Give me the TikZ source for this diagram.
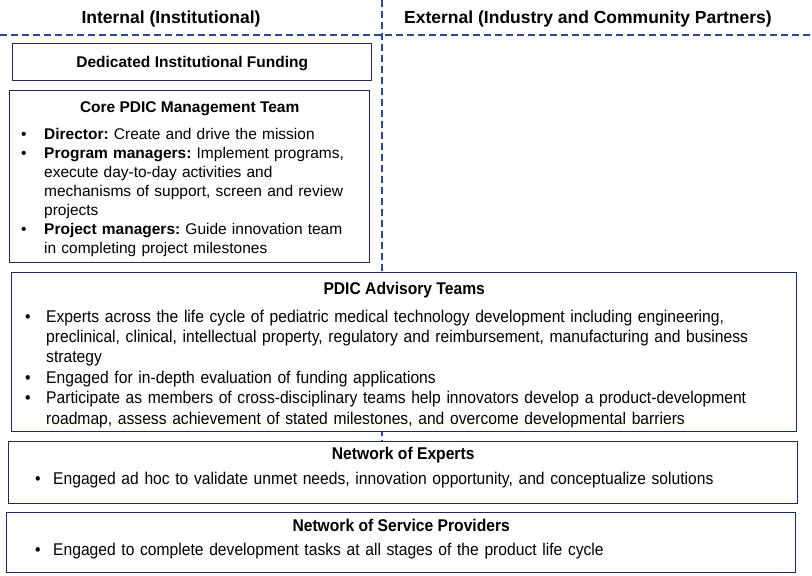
\documentclass[tikz,border=0pt]{standalone}
\usepackage{fontspec}
\setmainfont{Liberation Sans}
\newfontfamily\narrowfont{Liberation Sans}[FakeStretch=0.92]
\frenchspacing

\definecolor{boxnavy}{RGB}{30,42,88}
\definecolor{dashblue}{RGB}{48,72,150}

% bullet line with hanging indent
\newcommand{\pitem}[2][23pt]{\noindent\hangindent=#1\hangafter=1\makebox[#1][l]{\textbullet}#2\par}

\tikzset{
  panel/.style={draw=boxnavy, line width=1.4pt, fill=white, anchor=north west, inner sep=0pt},
  heading/.style={font=\fontsize{17.5}{20}\selectfont\bfseries, anchor=base, inner sep=0pt},
  boxtitle/.style={font=\fontsize{15.5}{19}\selectfont\bfseries, anchor=base, inner sep=0pt},
  narrowtitle/.style={font=\narrowfont\fontsize{17}{20}\selectfont\bfseries, anchor=base, inner sep=0pt},
  bullets/.style={font=\fontsize{15.5}{19}\selectfont, anchor=base west, align=left, inner sep=0pt, text width=#1},
  narrowbullets/.style={font=\narrowfont\fontsize{17}{20.4}\selectfont, anchor=base west, align=left, inner sep=0pt, text width=#1},
  divider/.style={dashblue, line width=1.3pt, dash pattern=on 7pt off 4pt}
}

\begin{document}
\begin{tikzpicture}[x=1pt, y=-1pt]
    \useasboundingbox (0,0) rectangle (812,576);

    % Draw the two columns
    \node[heading] (internal) at (171,23) {Internal (Institutional)};
    \node[heading] (external) at (588,23) {External (Industry and Community Partners)};
    \draw[divider] (0,35) -- (812,35);
    \draw[divider] (382,0) -- (382,441);

    % Internal boxes
    \node[panel, minimum width=359pt, minimum height=37pt] (funding) at (12,43) {};
    \node[boxtitle] (fundingtitle) at ([yshift=-24pt]funding.north) {Dedicated Institutional Funding};

    \node[panel, minimum width=360pt, minimum height=172pt] (core) at (9,90) {};
    \node[boxtitle] (coretitle) at ([yshift=-22pt]core.north) {Core PDIC Management Team};
    \node[bullets=340pt] (corelist) at (21,139) {%
        \pitem{\textbf{Director:} Create and drive the mission}
        \pitem{\textbf{Program managers:} Implement programs,\newline execute day-to-day activities and\newline mechanisms of support, screen and review\newline projects}
        \pitem{\textbf{Project managers:} Guide innovation team\newline in completing project milestones}};

    % Boxes across both columns
    \node[panel, minimum width=785pt, minimum height=159pt] (advisory) at (11,272) {};
    \node[narrowtitle] (advisorytitle) at ([yshift=-22pt]advisory.north) {PDIC Advisory Teams};
    \node[narrowbullets=765pt] (advisorylist) at (25,322) {%
        \pitem[21pt]{Experts across the life cycle of pediatric medical technology development including engineering,\newline preclinical, clinical, intellectual property, regulatory and reimbursement, manufacturing and business\newline strategy}
        \pitem[21pt]{Engaged for in-depth evaluation of funding applications}
        \pitem[21pt]{Participate as members of cross-disciplinary teams help innovators develop a product-development\newline roadmap, assess achievement of stated milestones, and overcome developmental barriers}};

    \node[panel, minimum width=789pt, minimum height=62pt] (experts) at (8,441) {};
    \node[narrowtitle] (expertstitle) at ([yshift=-18pt]experts.north) {Network of Experts};
    \node[narrowbullets=745pt] (expertslist) at (35,484) {%
        \pitem[18pt]{Engaged ad hoc to validate unmet needs, innovation opportunity, and conceptualize solutions}};

    \node[panel, minimum width=789pt, minimum height=60pt] (service) at (6,512) {};
    \node[narrowtitle] (servicetitle) at ([yshift=-19pt]service.north) {Network of Service Providers};
    \node[narrowbullets=745pt] (servicelist) at (35,555) {%
        \pitem[18pt]{Engaged to complete development tasks at all stages of the product life cycle}};
\end{tikzpicture}
\end{document}
